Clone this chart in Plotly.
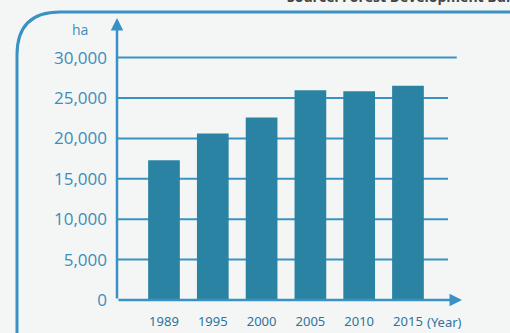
import plotly.graph_objects as go

years = ["1989", "1995", "2000", "2005", "2010", "2015"]
area_ha = [17300, 20600, 22600, 25950, 25850, 26500]
y_ticks = [0, 5000, 10000, 15000, 20000, 25000, 30000]
y_tick_labels = ["0", "5,000", "10,000", "15,000", "20,000", "25,000", "30,000"]

W, H = 510, 333
RL, RR, RT, RB = 117, 462, 18, 300  # plot area in window pixels

BAR = "#2b83a3"
BLUE = "#3a92c4"
TXT = "#3d8cbb"
XTXT = "#2d73a0"
BG = "#f4f6f5"

def px(x):
    return (x - RL) / (RR - RL)

def py(y):
    return (RB - y) / (RB - RT)

fig = go.Figure()
fig.add_trace(go.Bar(x=list(range(len(years))), y=area_ha, marker_color=BAR,
                     marker_line_width=0, width=0.65))

xmin, xmax = -0.963, 6.107
ymax = 34900

shapes = []
for v in y_ticks[1:]:
    xend = 6.0 if v == 30000 else 5.82
    shapes.append(dict(type="line", xref="x", yref="y", x0=xmin, x1=xend, y0=v, y1=v,
                       line=dict(color=BLUE, width=2), layer="below"))

# frame with rounded top-left corner
shapes.append(dict(type="path", xref="paper", yref="paper",
                   path=f"M {px(17)},{py(345)} L {px(17)},{py(55)} Q {px(17)},{py(12)} {px(60)},{py(12)} L {px(520)},{py(12)}",
                   line=dict(color=BLUE, width=3)))

annotations = []
annotations.append(dict(x=xmin, y=ymax, ax=xmin, ay=0, xref="x", yref="y", axref="x", ayref="y",
                        showarrow=True, arrowhead=2, arrowsize=1, arrowwidth=2.5, arrowcolor=BLUE, text=""))
annotations.append(dict(x=xmax, y=0, ax=xmin, ay=0, xref="x", yref="y", axref="x", ayref="y",
                        showarrow=True, arrowhead=2, arrowsize=1, arrowwidth=2.5, arrowcolor=BLUE, text=""))
annotations.append(dict(x=px(80), y=py(30), xref="paper", yref="paper", text="ha", showarrow=False,
                        xanchor="center", yanchor="middle",
                        font=dict(family="Open Sans", size=14, color=TXT)))
annotations.append(dict(x=px(444), y=py(322), xref="paper", yref="paper", text="(Year)", showarrow=False,
                        xanchor="center", yanchor="middle",
                        font=dict(family="Noto Sans", size=13, color=XTXT)))
annotations.append(dict(x=px(540), y=py(-4), xref="paper", yref="paper", xanchor="right", yanchor="middle",
                        text="<b>Source: Forest Development Bureau</b>", showarrow=False,
                        font=dict(family="Open Sans", size=14, color="#444444")))

fig.update_layout(
    width=W, height=H,
    margin=dict(l=RL, r=W - RR, t=RT, b=H - RB, pad=0, autoexpand=False),
    paper_bgcolor=BG, plot_bgcolor=BG,
    showlegend=False,
    shapes=shapes, annotations=annotations,
    xaxis=dict(range=[xmin, xmax], tickvals=list(range(len(years))), ticktext=years,
               showgrid=False, zeroline=False, showline=False, ticks="",
               ticklabelstandoff=12, automargin=False,
               tickfont=dict(family="Noto Sans", size=13, color=XTXT)),
    yaxis=dict(range=[0, ymax], tickvals=y_ticks, ticktext=y_tick_labels,
               showgrid=False, zeroline=False, showline=False, ticks="",
               ticklabelstandoff=9, automargin=False,
               tickfont=dict(family="Open Sans", size=17, color=TXT)),
)

fig.write_html("out.html", config={"displayModeBar": False},
               post_script="document.body.style.margin='0';document.body.style.background='#f4f6f5';")
